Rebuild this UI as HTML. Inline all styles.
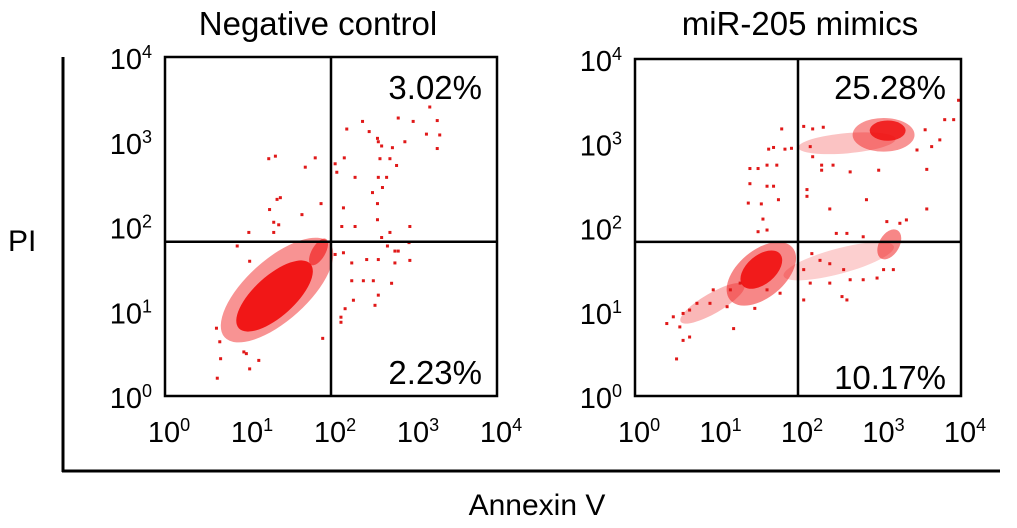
<!DOCTYPE html>
<html><head><meta charset="utf-8"><style>
html,body{margin:0;padding:0;background:#fff;}
svg{display:block;font-family:"Liberation Sans",Arial,sans-serif;}
</style></head><body>
<svg id="chart" width="1017" height="528" viewBox="0 0 1017 528">
<line x1="63" y1="57" x2="63" y2="472" stroke="#000" stroke-width="3"/>
<line x1="62" y1="471" x2="1000" y2="471" stroke="#000" stroke-width="3"/>
<text x="8" y="251" font-size="30">PI</text>
<text x="537" y="515" font-size="30" text-anchor="middle">Annexin V</text>
</svg>
<script>
// Panel 1 (Negative control) sparse events [log10 Annexin V, log10 PI]
const negX = [3.19,2.81,2.99,3.28,2.38,2.19,2.46,3.15,3.31,2.56,2.57,2.89,2.61,2.74,3.28,2.71,2.59,2.16,1.81,1.33,1.25,2.05,2.79,1.69,2.07,2.29,2.57,2.67,2.62,2.50,2.56,2.15,1.88,1.35,1.39,1.26,1.65,2.56,2.13,2.29,2.71,2.95,1.31,1.37,1.01,1.31,0.87,2.61,2.68,2.77,2.81,2.94,2.95,2.43,2.57,2.15,2.05,2.25,2.77,2.25,2.39,2.51,2.73,2.27,2.57,2.53,2.17,2.12,2.12,1.90,1.02,0.95,0.98,0.67,1.02,0.63,1.13,0.66,0.62];
const negY = [3.41,3.28,3.24,3.25,3.24,3.15,3.12,3.09,3.08,3.04,3.00,3.00,2.95,2.93,2.92,2.80,2.80,2.81,2.81,2.83,2.80,2.74,2.72,2.70,2.64,2.58,2.58,2.58,2.46,2.40,2.27,2.22,2.27,2.32,2.34,2.20,2.14,2.08,2.00,2.00,1.93,2.00,2.05,2.02,1.93,1.93,1.77,1.87,1.77,1.71,1.71,1.81,1.60,1.61,1.61,1.69,1.67,1.57,1.57,1.36,1.36,1.36,1.33,1.13,1.19,1.07,1.03,0.93,0.87,0.68,1.59,0.52,0.50,0.44,0.32,0.21,0.42,0.64,0.80];
// dense populations: center x, center y, half-length, half-width (decades), angle, opacity
const negClusterCx = [1.35,1.32,1.85];
const negClusterCy = [1.25,1.18,1.70];
const negClusterA = [0.85,0.58,0.18];
const negClusterB = [0.36,0.24,0.08];
const negClusterAng = [42,42,60];
const negClusterOp = [0.45,0.95,0.6];
// Panel 2 (miR-205 mimics)
const mimX = [1.80,1.64,1.70,1.84,1.92,1.41,1.51,1.62,1.74,1.41,1.62,1.70,1.39,1.55,1.76,1.57,1.51,1.62,2.07,2.18,2.31,2.15,2.18,2.29,2.29,2.43,2.64,2.99,3.58,3.46,3.64,3.74,3.56,3.80,3.91,3.97,2.39,2.84,3.58,2.47,2.60,2.80,2.11,2.11,3.09,3.25,3.33,2.17,2.27,2.39,2.56,2.64,2.80,2.97,3.05,3.17,2.07,2.15,2.39,2.54,2.60,2.07,1.78,1.62,1.29,1.17,0.96,0.92,0.76,0.67,0.59,0.47,0.39,0.55,0.67,0.59,1.21,0.51,1.13,1.47];
const mimY = [3.17,2.93,2.95,2.93,2.94,2.70,2.70,2.74,2.74,2.52,2.49,2.49,2.29,2.28,2.33,2.10,1.95,1.97,3.20,3.17,3.19,2.96,2.84,2.74,2.68,2.74,2.66,2.68,2.69,2.92,2.96,3.04,3.16,3.28,3.28,3.51,2.22,2.33,2.22,1.93,1.93,1.89,2.45,2.37,2.07,2.05,2.09,1.69,1.61,1.57,1.50,1.38,1.38,1.40,1.50,1.50,1.50,1.34,1.34,1.18,1.14,1.14,1.22,1.26,1.34,1.26,1.26,1.10,1.10,1.02,0.98,0.94,0.86,0.82,0.70,0.66,0.80,0.44,1.06,1.04];
const mimClusterCx = [1.55,1.55,0.95,3.05,3.10,2.60,3.12,2.50];
const mimClusterCy = [1.45,1.50,1.10,3.10,3.15,3.00,1.80,1.60];
const mimClusterA = [0.50,0.30,0.45,0.38,0.22,0.60,0.20,0.70];
const mimClusterB = [0.28,0.17,0.12,0.20,0.12,0.12,0.12,0.15];
const mimClusterAng = [40,40,30,0,0,5,60,15];
const mimClusterOp = [0.5,0.9,0.3,0.45,0.85,0.25,0.5,0.2];
const tickVals = [0,1,2,3,4];
const titles = ["Negative control","miR-205 mimics"];
const quadX = [2.0,2.0];
const quadY = [1.82,1.83];
const pctUR = ["3.02%","25.28%"];
const pctLR = ["2.23%","10.17%"];

const NS="http://www.w3.org/2000/svg";
const svg=document.getElementById('chart');
function mk(tag,attrs,parent){const e=document.createElementNS(NS,tag);for(const k in attrs)e.setAttribute(k,attrs[k]);(parent||svg).appendChild(e);return e;}

const panels=[
 {x0:165,x1:497,y0:396,y1:57,X:negX,Y:negY,cx:negClusterCx,cy:negClusterCy,a:negClusterA,b:negClusterB,ang:negClusterAng,op:negClusterOp,lblX:152,titleX:318},
 {x0:635,x1:961,y0:396,y1:59,X:mimX,Y:mimY,cx:mimClusterCx,cy:mimClusterCy,a:mimClusterA,b:mimClusterB,ang:mimClusterAng,op:mimClusterOp,lblX:622,titleX:800}
];
panels.forEach((p,i)=>{
 const sx=v=>p.x0+(p.x1-p.x0)*v/4;
 const sy=v=>p.y0+(p.y1-p.y0)*v/4;
 const dx=(p.x1-p.x0)/4, dy=(p.y0-p.y1)/4;
 const g=mk('g',{});
 
 
 const t=mk('text',{x:p.titleX,y:35,'font-size':33,'text-anchor':'middle'},g);
 t.textContent=titles[i];
 
 
 for(let k=0;k<p.cx.length;k++){
  const e=mk('ellipse',{cx:sx(p.cx[k]),cy:sy(p.cy[k]),rx:p.a[k]*dx,ry:p.b[k]*dy,fill:'#f01010','fill-opacity':p.op[k],transform:`rotate(${-p.ang[k]} ${sx(p.cx[k])} ${sy(p.cy[k])})`},g);
  
  
 }
 for(let k=0;k<p.X.length;k++){
  const d=mk('rect',{x:sx(p.X[k])-1.5,y:sy(p.Y[k])-1.5,width:3,height:3,fill:'#e01818'},g);
  
  
 }
 const box=mk('rect',{x:p.x0,y:p.y1,width:p.x1-p.x0,height:p.y0-p.y1,fill:'none',stroke:'#000','stroke-width':2.5},g);
 
 
 const vl=mk('line',{x1:sx(quadX[i]),x2:sx(quadX[i]),y1:p.y1,y2:p.y0,stroke:'#000','stroke-width':2.5},g);
 
 
 const hl=mk('line',{x1:p.x0,x2:p.x1,y1:sy(quadY[i]),y2:sy(quadY[i]),stroke:'#000','stroke-width':2.5},g);
 
 
 tickVals.forEach(v=>{
  const lx=mk('text',{x:sx(v)+4,y:442,'font-size':29,'text-anchor':'middle'},g);
  lx.innerHTML='10<tspan dy="-11" font-size="18">'+v+'</tspan>';
  
  
  const ly=mk('text',{x:p.lblX,y:sy(v)+12,'font-size':29,'text-anchor':'end'},g);
  ly.innerHTML='10<tspan dy="-11" font-size="18">'+v+'</tspan>';
  
  
 });
 const u=mk('text',{x:p.x1-15,y:99,'font-size':33,'text-anchor':'end'},g);
 u.textContent=pctUR[i];
 
 
 const l=mk('text',{x:p.x1-15,y:i?389:384,'font-size':33,'text-anchor':'end'},g);
 l.textContent=pctLR[i];
 
 
});
</script>
</body></html>
